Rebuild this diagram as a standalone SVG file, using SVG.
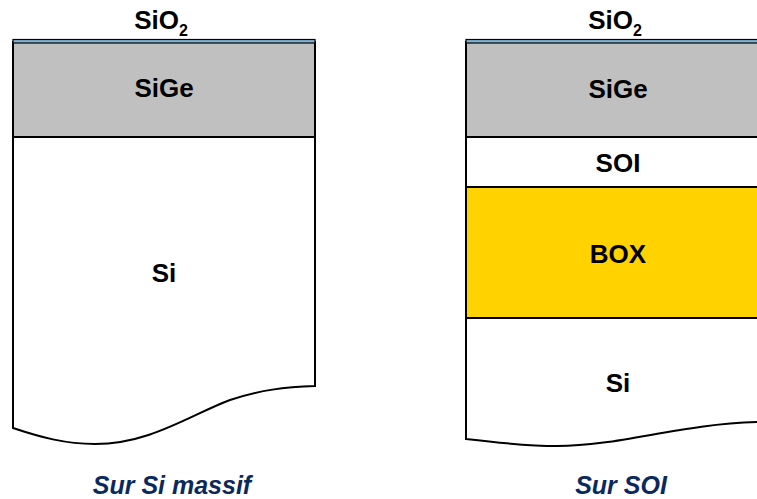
<svg xmlns="http://www.w3.org/2000/svg" width="757" height="499" viewBox="0 0 757 499">
<style>
.l{stroke:#000;stroke-width:2}
.t{font-family:"Liberation Sans",Arial,sans-serif;font-weight:bold;font-size:26px;fill:#000;text-anchor:middle}
.c{font-family:"Liberation Sans",Arial,sans-serif;font-weight:bold;font-style:italic;font-size:25px;fill:#0b2a5b;text-anchor:middle}
</style>
<rect width="757" height="499" fill="#fff"/>
<g id="left-stack">
  <g id="left-si">
    <path class="l" fill="#fff" d="M13,137 L315,137 L315,386 C285,387 260,390 230,400 C190,415 150,444 95,444 C65,444 40,437 13,428 Z"/>
    <text class="t" x="164" y="282">Si</text>
  </g>
  <g id="left-sige">
    <rect class="l" x="13" y="42" width="302" height="95" fill="#c0c0c0"/>
    <text class="t" x="164" y="97">SiGe</text>
  </g>
  <g id="left-sio2">
    <rect x="13" y="39.5" width="302" height="3.5" fill="#7fb3d8" stroke="#000" stroke-width="1.2"/>
    <text class="t" x="161" y="29" font-size="23">SiO<tspan font-size="16" dy="7">2</tspan></text>
  </g>
</g>
<g id="right-stack">
  <g id="right-si">
    <path class="l" fill="#fff" d="M466,318 L770,318 L770,422 L757,422 C680,424 620,446 557,446 C530,446 500,443 466,439 Z"/>
    <text class="t" x="618" y="392">Si</text>
  </g>
  <g id="right-box">
    <rect class="l" x="466" y="187" width="304" height="131" fill="#ffd200"/>
    <text class="t" x="618" y="263">BOX</text>
  </g>
  <g id="right-soi">
    <rect class="l" x="466" y="137" width="304" height="50" fill="#fff"/>
    <text class="t" x="618" y="172">SOI</text>
  </g>
  <g id="right-sige">
    <rect class="l" x="466" y="42" width="304" height="95" fill="#c0c0c0"/>
    <text class="t" x="618" y="98">SiGe</text>
  </g>
  <g id="right-sio2">
    <rect x="466" y="39.5" width="304" height="3.5" fill="#7fb3d8" stroke="#000" stroke-width="1.2"/>
    <text class="t" x="615" y="29" font-size="23">SiO<tspan font-size="16" dy="7">2</tspan></text>
  </g>
</g>
<g id="connectors"/>
<text class="c" x="172" y="494">Sur Si massif</text>
<text class="c" x="621" y="494">Sur SOI</text>
</svg>
